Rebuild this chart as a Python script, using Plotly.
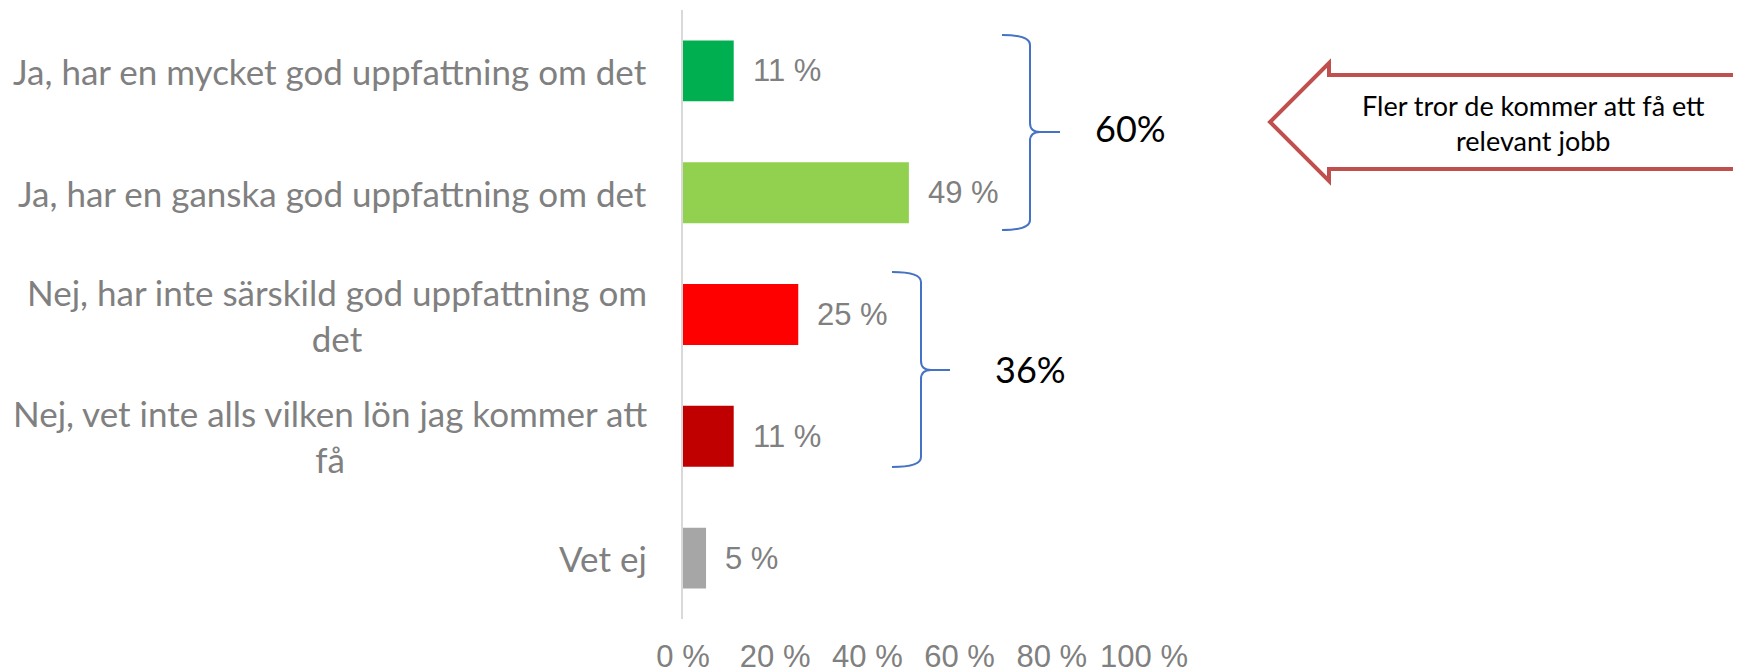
import plotly.graph_objects as go

categories = [
    "Ja, har en mycket god uppfattning om det",
    "Ja, har en ganska god uppfattning om det",
    "Nej, har inte särskild god uppfattning om<br>det",
    "Nej, vet inte alls vilken lön jag kommer att<br>få",
    "Vet ej",
]
values = [11, 49, 25, 11, 5]
value_labels = ["11 %", "49 %", "25 %", "11 %", "5 %"]
bar_colors = ["#00B050", "#92D050", "#FF0000", "#C00000", "#A6A6A6"]
tick_values = [0, 20, 40, 60, 80, 100]
tick_labels = ["0 %", "20 %", "40 %", "60 %", "80 %", "100 %"]
group_labels = ["60%", "36%"]
arrow_text = "Fler tror de kommer att få ett<br>relevant jobb"

W, H = 1741, 671
OFF = 8  # page body margin shifts the whole figure
L, R, T, B = 683, 1144, 10, 619  # plot area, page pixels


def px(x):
    return (x - L) / (R - L)


def py(y):
    return 1 - (y - T) / (B - T)


def path(points):
    return " ".join(f"{c} {px(x):.5f},{py(y):.5f}" if c else f"{px(x):.5f},{py(y):.5f}"
                    for c, x, y in points)


def brace(x0, xv, xt, y0, ym, y1):
    pts = [
        ("M", x0, y0), ("Q", xv, y0), ("", xv, y0 + 10),
        ("L", xv, ym - 9), ("Q", xv, ym), ("", xv + 10, ym),
        ("L", xt, ym),
        ("M", xv + 10, ym), ("Q", xv, ym), ("", xv, ym + 9),
        ("L", xv, y1 - 10), ("Q", xv, y1), ("", x0, y1),
    ]
    return path(pts)


fig = go.Figure()
fig.add_trace(
    go.Bar(
        x=values,
        y=categories,
        orientation="h",
        marker={"color": bar_colors, "line": {"width": 0}},
        hoverinfo="skip",
    )
)

grey = "#808080"
annotations = []
for cat in categories:
    annotations.append(dict(
        x=0, y=cat, xref="paper", yref="y", text=cat, showarrow=False,
        xanchor="right", yanchor="middle", align="center", xshift=-34,
        font={"family": "Lato", "size": 35, "color": grey},
    ))
for cat, v, lab in zip(categories, values, value_labels):
    annotations.append(dict(
        x=v, y=cat, xref="x", yref="y", text=lab, showarrow=False,
        xanchor="left", yanchor="middle", xshift=17,
        font={"family": "Liberation Sans, Arial", "size": 31, "color": grey},
    ))
annotations.append(dict(
    x=px(1130), y=py(128), xref="paper", yref="paper", text=group_labels[0],
    showarrow=False, xanchor="center", yanchor="middle",
    font={"family": "Lato", "size": 36, "color": "black"},
))
annotations.append(dict(
    x=px(1030), y=py(369), xref="paper", yref="paper", text=group_labels[1],
    showarrow=False, xanchor="center", yanchor="middle",
    font={"family": "Lato", "size": 36, "color": "black"},
))
annotations.append(dict(
    x=px(1533), y=py(123), xref="paper", yref="paper", text=arrow_text,
    showarrow=False, align="center", xanchor="center", yanchor="middle",
    font={"family": "Lato", "size": 27, "color": "black"},
))

shapes = [
    dict(type="path", xref="paper", yref="paper", layer="below",
         path=brace(1002, 1030, 1060, 35, 132, 230),
         line={"color": "#4472C4", "width": 2}),
    dict(type="path", xref="paper", yref="paper", layer="below",
         path=brace(892, 921, 950, 272, 370, 467),
         line={"color": "#4472C4", "width": 2}),
    dict(type="path", xref="paper", yref="paper", layer="below",
         path=path([("M", 1760, 75), ("L", 1329, 75), ("L", 1329, 63), ("L", 1270, 122),
                    ("L", 1329, 181), ("L", 1329, 169), ("L", 1760, 169)]) + " Z",
         fillcolor="white", line={"color": "#C0504D", "width": 4}),
]

fig.update_layout(
    width=W,
    height=H,
    margin={"l": L - OFF, "r": W - R + OFF, "t": T - OFF, "b": H - B + OFF},
    paper_bgcolor="white",
    plot_bgcolor="white",
    showlegend=False,
    bargap=0.5,
    annotations=annotations,
    shapes=shapes,
    xaxis={
        "range": [0, 100],
        "tickvals": tick_values,
        "ticktext": tick_labels,
        "showgrid": False,
        "zeroline": False,
        "showline": False,
        "ticks": "",
        "ticklabelstandoff": 16,
        "tickfont": {"family": "Liberation Sans, Arial", "size": 31, "color": grey},
        "fixedrange": True,
    },
    yaxis={
        "autorange": "reversed",
        "showticklabels": False,
        "showgrid": False,
        "zeroline": False,
        "showline": True,
        "linecolor": "#D9D9D9",
        "linewidth": 2,
        "ticks": "",
    },
)

fig.write_html("out.html")
